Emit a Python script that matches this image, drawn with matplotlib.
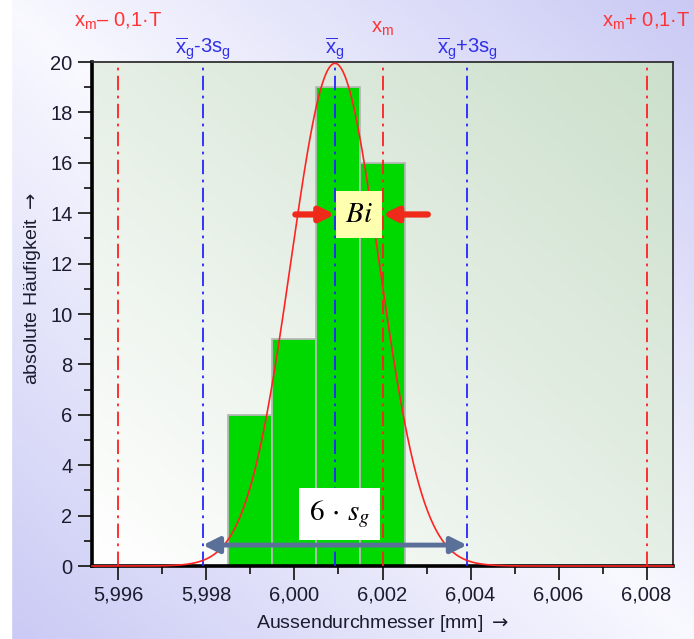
import numpy as np
import matplotlib
matplotlib.use("Agg")
import matplotlib.pyplot as plt
from matplotlib.ticker import MultipleLocator, FuncFormatter

plt.rcParams['font.family'] = ['Liberation Sans', 'DejaVu Sans']
plt.rcParams['mathtext.fontset'] = 'custom'
plt.rcParams['mathtext.rm'] = 'Liberation Sans'
plt.rcParams['mathtext.it'] = 'Liberation Sans'
plt.rcParams['mathtext.bf'] = 'Liberation Sans:bold'

# Daten
klassen_links = [5.9985, 5.9995, 6.0005, 6.0015]
haeufigkeit = [6, 9, 19, 16]
klassenbreite = 0.001
xg = 6.00092      # Mittelwert
sg = 0.001        # Standardabweichung
xm = 6.002        # Toleranzmitte
T = 0.06          # Toleranz
x_ticks = [5.996, 5.998, 6.000, 6.002, 6.004, 6.006, 6.008]

xlim = (5.9954, 6.0086)
ylim = (0, 20)

fig = plt.figure(figsize=(6.94, 6.39), dpi=100)

# Hintergrund (Verlauf)
bg = fig.add_axes([0, 0, 1, 1], zorder=-10)
u, v = np.meshgrid(np.linspace(0, 1, 200), np.linspace(0, 1, 200))
w = np.abs(u - v)
weiss = np.array([0.975, 0.975, 1.0])
lila = np.array([0.79, 0.79, 0.96])
img = weiss[None, None, :] * (1 - w[..., None]) + lila[None, None, :] * w[..., None]
bg.imshow(img, extent=(0, 1, 0, 1), aspect='auto', origin='upper')
bg.axvspan(0, 11 / 694, color='white')
bg.set_xlim(0, 1)
bg.set_ylim(0, 1)
bg.axis('off')

ax = fig.add_axes([92 / 694, 73 / 639, 581 / 694, 504 / 639])
ax.set_xlim(*xlim)
ax.set_ylim(*ylim)
ax.patch.set_alpha(0)

# Diagrammfläche (Verlauf weiß -> hellgrün)
g = (u + (1 - v)) / 2
hell = np.array([1.0, 1.0, 1.0])
gruen = np.array([0.80, 0.875, 0.80])
img2 = hell[None, None, :] * (1 - g[..., None]) + gruen[None, None, :] * g[..., None]
ax.imshow(img2, extent=(*xlim, *ylim), aspect='auto', origin='upper', zorder=0)

# Histogramm
ax.bar(klassen_links, haeufigkeit, width=klassenbreite, align='edge',
       color='#00d900', edgecolor='#b8b8b8', linewidth=1.3, zorder=2)

# Normalverteilung
n = sum(haeufigkeit)
xs = np.linspace(*xlim, 800)
ys = n * klassenbreite / (sg * np.sqrt(2 * np.pi)) * np.exp(-0.5 * ((xs - xg) / sg) ** 2)
ax.plot(xs, ys, color='#ff2424', lw=1.2, zorder=4, clip_on=False)

# Grenzlinien
for xv in [xm - 0.1 * T, xm, xm + 0.1 * T]:
    ax.axvline(xv, color='#ff2020', lw=1.3, dashes=(8, 3, 1.5, 3), zorder=3)
for xv in [xg - 3 * sg, xg, xg + 3 * sg]:
    ax.axvline(xv, color='#2525ff', lw=1.3, dashes=(8, 3, 1.5, 3), zorder=3)

tr = ax.get_xaxis_transform()
rot = '#ff3434'
blau = '#3030e8'
fs_oben = 14.5
ax.text(xm - 0.1 * T, 1.080, r'$\mathrm{x_m}$– 0,1·T', color=rot, fontsize=fs_oben,
        ha='center', va='center', transform=tr, math_fontfamily='custom')
ax.text(xm, 1.066, r'$\mathrm{x_m}$', color=rot, fontsize=fs_oben,
        ha='center', va='center', transform=tr, math_fontfamily='custom')
ax.text(xm + 0.1 * T, 1.080, r'$\mathrm{x_m}$+ 0,1·T', color=rot, fontsize=fs_oben,
        ha='center', va='center', transform=tr, math_fontfamily='custom')
ax.text(xg - 3 * sg, 1.026, r'$\overline{\mathrm{x}}_\mathrm{g}$-3s$_\mathrm{g}$', color=blau,
        fontsize=fs_oben, ha='center', va='center', transform=tr, math_fontfamily='custom')
ax.text(xg, 1.026, r'$\overline{\mathrm{x}}_\mathrm{g}$', color=blau,
        fontsize=fs_oben, ha='center', va='center', transform=tr, math_fontfamily='custom')
ax.text(xg + 3 * sg, 1.026, r'$\overline{\mathrm{x}}_\mathrm{g}$+3s$_\mathrm{g}$', color=blau,
        fontsize=fs_oben, ha='center', va='center', transform=tr, math_fontfamily='custom')

# Bias-Pfeile
pfeil_rot = '#f02a1a'
ax.annotate('', xy=(xg, 13.95), xytext=(6.00002, 13.95),
            arrowprops=dict(arrowstyle='-|>', color=pfeil_rot, lw=4.5, mutation_scale=21,
                            shrinkA=0, shrinkB=0), zorder=6)
ax.annotate('', xy=(xm, 13.95), xytext=(6.00303, 13.95),
            arrowprops=dict(arrowstyle='-|>', color=pfeil_rot, lw=4.5, mutation_scale=21,
                            shrinkA=0, shrinkB=0), zorder=6)
ax.text((xg + xm) / 2, 13.95, r'$Bi$', fontsize=21, ha='center', va='center',
        math_fontfamily='stix', zorder=7,
        bbox=dict(boxstyle='square,pad=0.32', fc='#ffffb0', ec='none'))

# 6 sg Pfeil
ax.annotate('', xy=(xg - 3 * sg, 0.83), xytext=(xg + 3 * sg, 0.83),
            arrowprops=dict(arrowstyle='<|-|>', color='#5b7098', lw=3.5, mutation_scale=24,
                            shrinkA=0, shrinkB=0), zorder=6)
ax.text(6.00102, 2.05, r'$6\,\cdot\,s_g$', fontsize=21, ha='center', va='center',
        math_fontfamily='stix', zorder=7,
        bbox=dict(boxstyle='square,pad=0.35', fc='white', ec='none'))

# Achsen
ax.set_xticks(x_ticks)
ax.xaxis.set_major_formatter(FuncFormatter(lambda x, p: f'{x:.3f}'.replace('.', ',')))
ax.xaxis.set_minor_locator(MultipleLocator(0.001))
ax.yaxis.set_major_locator(MultipleLocator(2))
ax.yaxis.set_minor_locator(MultipleLocator(1))
ax.tick_params(which='major', direction='out', length=10, width=1.3, color='#202020',
               labelsize=14.5, labelcolor='#1c1c30', pad=4)
ax.tick_params(which='minor', direction='out', length=6, width=1.3, color='#202020')

for s in ['left', 'bottom']:
    ax.spines[s].set_linewidth(2.6)
    ax.spines[s].set_color('black')
for s in ['top', 'right']:
    ax.spines[s].set_linewidth(1.3)
    ax.spines[s].set_color('#303030')

ax.set_xlabel(r'Aussendurchmesser [mm] $\rightarrow$', fontsize=14, color='#1c1c30',
              math_fontfamily='dejavusans')
ax.xaxis.set_label_coords(0.5, -0.093)
ax.set_ylabel(r'absolute Häufigkeit $\rightarrow$', fontsize=14, color='#1c1c30',
              math_fontfamily='dejavusans')
ax.yaxis.set_label_coords(-0.084, 0.55)

fig.savefig('out.png', dpi=100)
